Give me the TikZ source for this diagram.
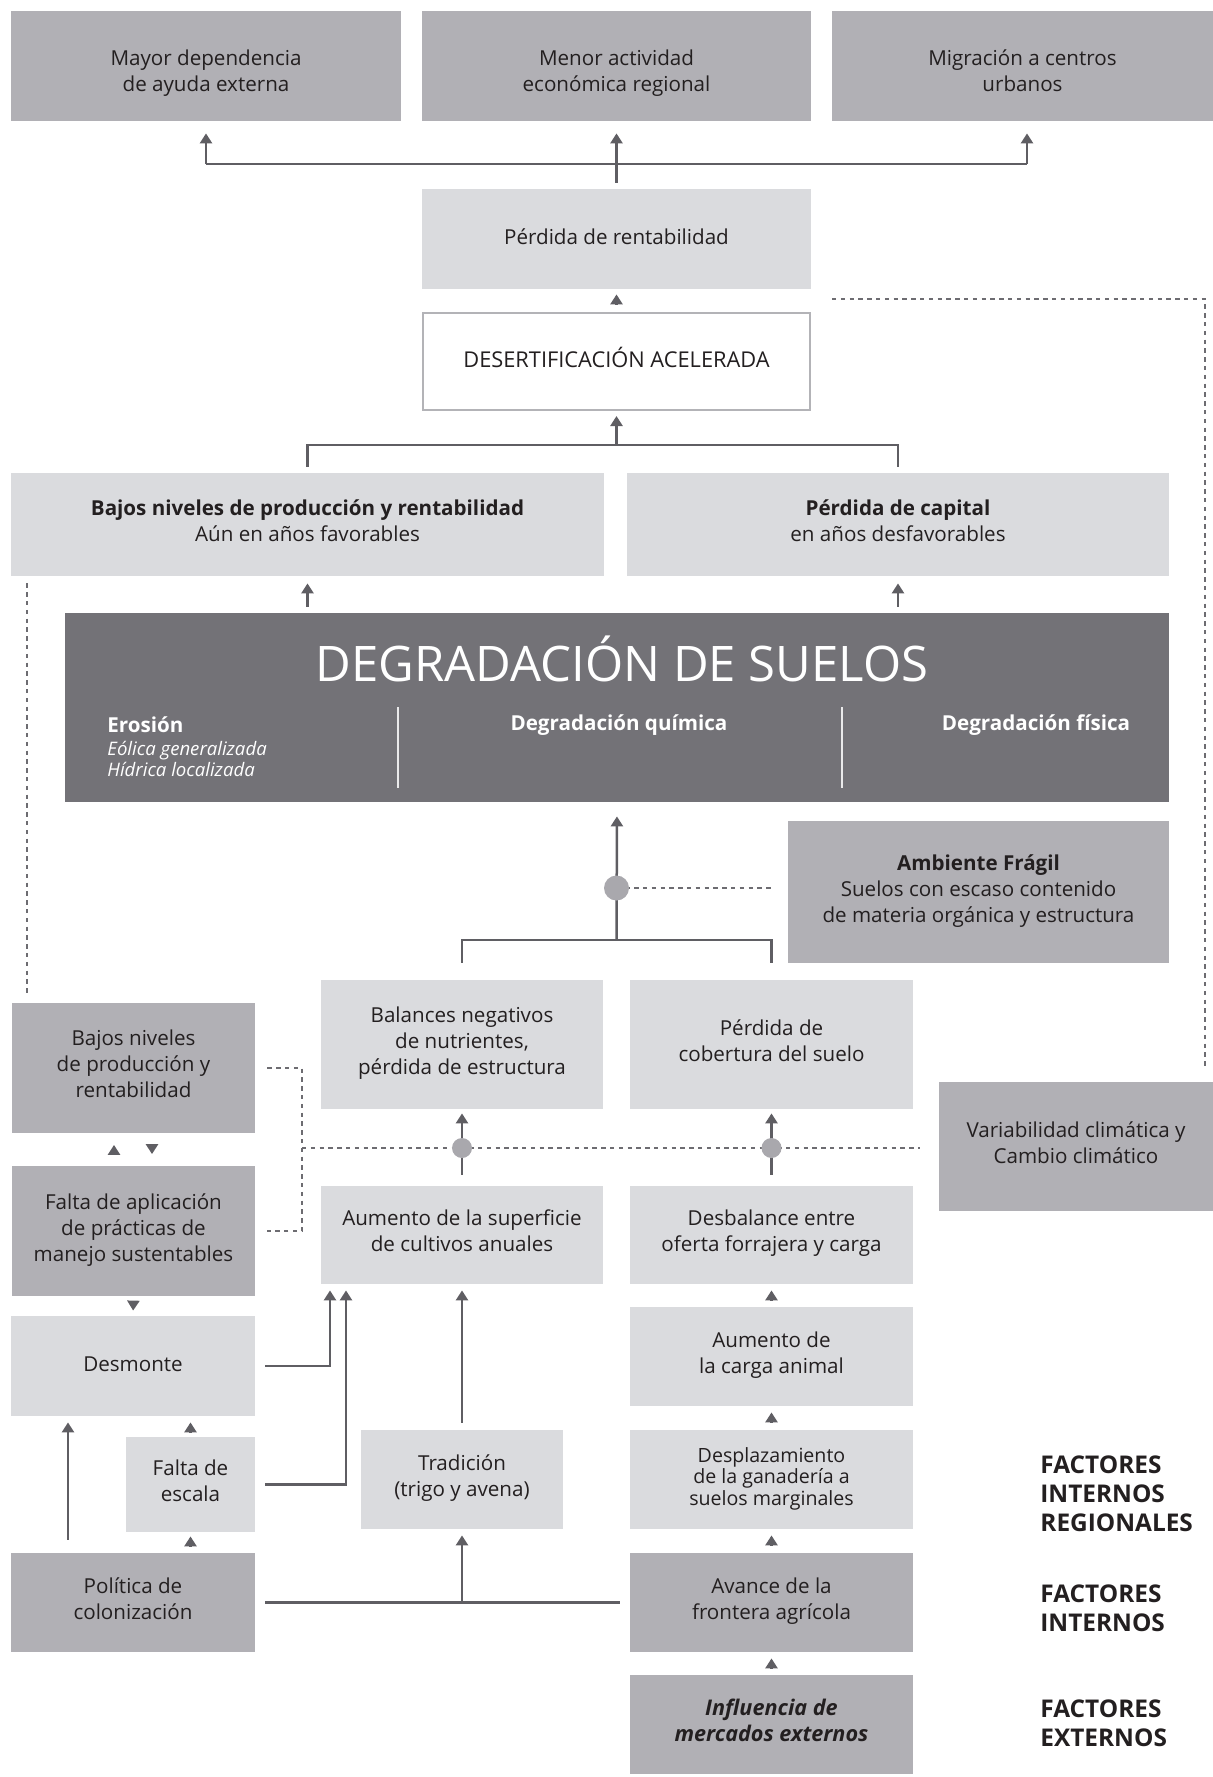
\documentclass[tikz,border=0pt]{standalone}
\usepackage{fontspec}
\setmainfont{Open Sans}
\usetikzlibrary{arrows.meta}

\definecolor{midgray}{HTML}{B1B0B5}
\definecolor{lightgray}{HTML}{DADBDE}
\definecolor{darkgray}{HTML}{737277}
\definecolor{linec}{HTML}{5F5E63}
\definecolor{dotc}{HTML}{6D6C71}
\definecolor{jointc}{HTML}{A9A8AD}
\definecolor{framec}{HTML}{B3B3B7}
\definecolor{txtc}{HTML}{231F20}

\tikzset{
	base/.style={align=center,inner sep=0pt,text=txtc,font=\fontsize{10.3}{13}\selectfont,
		execute at begin node=\strut,execute at end node=\strut},
	midbox/.style={base,fill=midgray},
	lightbox/.style={base,fill=lightgray},
	lowtext/.style={text height=28.9pt},
	sz/.style 2 args={minimum width=#1*0.5pt,minimum height=#2*0.5pt},
	ln/.style={draw=linec,line width=1.25pt},
	arr/.style={ln,-{Triangle[length=5pt,width=6pt]}},
	dots/.style={draw=dotc,line width=1.3pt,dash pattern=on 2.2pt off 2.2pt},
	joint/.style={circle,fill=jointc,inner sep=0pt,minimum size=#1*0.5pt},
	wtext/.style={text=white,inner sep=0pt,font=\fontsize{10.3}{13}\selectfont\bfseries},
	factor/.style={anchor=west,align=left,text=txtc,inner sep=0pt,font=\fontsize{12.2}{14.5}\selectfont\bfseries},
}

\begin{document}
\begin{tikzpicture}[x=0.5pt,y=-0.5pt]
	\useasboundingbox (0,0) rectangle (1213,1777);

	% consequences
	\node[midbox,lowtext,sz={390}{110}] (dep) at (206,66) {Mayor dependencia\\de ayuda externa};
	\node[midbox,lowtext,sz={389}{110}] (act) at (616.5,66) {Menor actividad\\económica regional};
	\node[midbox,lowtext,sz={381}{110}] (mig) at (1022.5,66) {Migración a centros\\urbanos};

	\node[lightbox,sz={389}{100}] (rent) at (616.5,239) {Pérdida de rentabilidad};
	\node[base,sz={387}{97},fill=white,draw=framec,line width=1pt,font=\fontsize{10.9}{13}\selectfont] (desert) at (616.5,361.5) {DESERTIFICACIÓN ACELERADA};

	\node[lightbox,sz={593}{103}] (bajosT) at (307.5,524.5) {\textbf{Bajos niveles de producción y rentabilidad}\\Aún en años favorables};
	\node[lightbox,sz={542}{103}] (capital) at (898,524.5) {\textbf{Pérdida de capital}\\en años desfavorables};

	% soil degradation block
	\node[fill=darkgray,inner sep=0pt,sz={1104}{189}] (degr) at (617,707.5) {};
	\node[text=white,font=\fontsize{24.5}{28}\selectfont] (degrT) at (622,659) {DEGRADACIÓN DE SUELOS};
	\node[wtext,anchor=west] (eros) at (107,725) {Erosión};
	\node[wtext,anchor=west,align=left,font=\fontsize{9.3}{10.5}\selectfont\itshape] (erosT) at (107,758.5) {Eólica generalizada\\Hídrica localizada};
	\node[wtext] (quim) at (619,725) {Degradación química};
	\node[wtext] (fis) at (1036,725) {Degradación física};
	\draw[white!85!darkgray,line width=0.7pt] (398,707) -- (398,788); % divider 1
	\draw[white!85!darkgray,line width=0.7pt] (842,707) -- (842,788); % divider 2

	% causes
	\node[midbox,sz={381}{142}] (amb) at (978.5,892) {\textbf{Ambiente Frágil}\\Suelos con escaso contenido\\de materia orgánica y estructura};
	\node[lightbox,sz={282}{129}] (bal) at (462,1044.5) {Balances negativos\\de nutrientes,\\pérdida de estructura};
	\node[lightbox,sz={283}{129}] (cob) at (771.5,1044.5) {Pérdida de\\cobertura del suelo};
	\node[midbox,sz={243}{130}] (bajosL) at (133.5,1068) {Bajos niveles\\de producción y\\rentabilidad};
	\node[midbox,sz={274}{129}] (var) at (1076,1146.5) {Variabilidad climática y\\Cambio climático};
	\node[midbox,sz={243}{130}] (faltaAp) at (133.5,1231) {Falta de aplicación\\de prácticas de\\manejo sustentables};
	\node[lightbox,sz={282}{98}] (sup) at (462,1235) {Aumento de la superficie\\de cultivos anuales};
	\node[lightbox,sz={283}{98}] (desb) at (771.5,1235) {Desbalance entre\\oferta forrajera y carga};
	\node[lightbox,sz={244}{100}] (desm) at (133,1366) {Desmonte};
	\node[lightbox,sz={283}{99}] (carga) at (771.5,1356.5) {Aumento de\\la carga animal};
	\node[lightbox,sz={283}{99},font=\fontsize{9.8}{10.8}\selectfont] (despl) at (771.5,1479.5) {Desplazamiento\\de la ganadería a\\suelos marginales};
	\node[lightbox,sz={202}{99}] (trad) at (462,1479.5) {Tradición\\(trigo y avena)};
	\node[lightbox,sz={129}{95}] (esc) at (190.5,1484.5) {Falta de\\escala};
	\node[midbox,sz={244}{99}] (poli) at (133,1602.5) {Política de\\colonización};
	\node[midbox,sz={283}{99}] (avance) at (771.5,1602.5) {Avance de la\\frontera agrícola};
	\node[midbox,sz={283}{99},font=\fontsize{10.8}{13}\selectfont\bfseries\itshape] (infl) at (771.5,1724.5) {Influencia de\\mercados externos};

	% factor labels
	\node[factor] (fir) at (1040,1494) {FACTORES\\INTERNOS\\REGIONALES};
	\node[factor] (fi) at (1040,1608.5) {FACTORES\\INTERNOS};
	\node[factor] (fe) at (1040,1723.5) {FACTORES\\EXTERNOS};

	% helper coordinates
	\coordinate (f1) at (616.5,164); % top fork
	\coordinate (f2) at (616.5,445); % fork under desertification
	\coordinate (f3) at (616.5,940); % fork over balances
	\coordinate (mx) at (1027,0);
	\coordinate (lx) at (27,0);
	\coordinate (rx) at (1205,0);
	\coordinate (dx) at (302,0);
	\coordinate (ua) at (114,0);
	\coordinate (ub) at (152,0);
	\coordinate (sx1) at (330,0);
	\coordinate (sx2) at (346,0);
	\coordinate (lx2) at (68,0);
	\coordinate (j1) at (616.5,888);
	\coordinate (j2) at (462,1148);
	\coordinate (j3) at (771.5,1148);

	% upper arrows
	\draw[arr,shorten <=3pt,shorten >=6pt] (rent.north) -- (act.south);
	\draw[ln] (f1 -| dep.south) -- (f1 -| mx);
	\draw[arr,shorten >=6pt] (f1 -| dep.south) -- (dep.south);
	\draw[arr,shorten >=6pt] (f1 -| mx) -- (mx |- mig.south);
	\draw[arr,shorten <=3.75pt,shorten >=2.5pt] (desert.north) -- (rent.south);
	\draw[arr,shorten >=2.5pt] (f2) -- (desert.south);
	\draw[ln,shorten <=3pt,shorten >=3pt] (bajosT.north) |- (f2) -| (capital.north);
	\draw[arr,shorten <=3pt,shorten >=3.5pt] (degr.north -| bajosT.south) -- (bajosT.south);
	\draw[arr,shorten <=3pt,shorten >=3.5pt] (degr.north -| capital.south) -- (capital.south);

	% feedback lines
	\draw[dots,shorten <=3.5pt,shorten >=5pt] (lx |- bajosT.south) -- (lx |- bajosL.north);
	\draw[dots,shorten >=7.5pt] (832,299) -| (rx |- var.north);
	\draw[dots,shorten <=6pt,shorten >=6pt] (bajosL.east) -| (dx |- faltaAp.east) -- (faltaAp.east);
	\draw[dots,shorten >=9.5pt] (dx |- j2) -- (var.west |- j2);
	\draw[dots,shorten >=8.5pt] (j1) -- (amb.west |- j1);

	% into soil degradation
	\draw[arr,shorten >=7pt] (f3) -- (degr.south);
	\draw[ln,shorten <=8.5pt,shorten >=8.5pt] (bal.north) |- (f3) -| (cob.north);
	\node[joint=25] (jn1) at (j1) {};

	% middle arrows
	\draw[arr,shorten <=5.5pt,shorten >=2pt] (sup.north) -- (bal.south);
	\draw[arr,shorten <=5.5pt,shorten >=2pt] (desb.north) -- (cob.south);
	\node[joint=20] (jn2) at (j2) {};
	\node[joint=20] (jn3) at (j3) {};

	% left column
	\draw[arr,shorten <=5.75pt,shorten >=5.75pt] (ua |- faltaAp.north) -- (ua |- bajosL.south);
	\draw[arr,shorten <=5.75pt,shorten >=5.75pt] (ub |- bajosL.south) -- (ub |- faltaAp.north);
	\draw[arr,shorten <=2.5pt,shorten >=2.5pt] (faltaAp.south) -- (desm.north);
	\draw[arr,shorten <=5pt,shorten >=3pt] (desm.east) -| (sx1 |- sup.south);
	\draw[arr,shorten <=5pt,shorten >=3pt] (esc.east) -| (sx2 |- sup.south);
	\draw[arr,shorten <=2.5pt,shorten >=3pt] (esc.north) -- (desm.south -| esc.north);
	\draw[arr,shorten <=6.5pt,shorten >=3pt] (lx2 |- poli.north) -- (lx2 |- desm.south);
	\draw[arr,shorten <=3.5pt,shorten >=2pt] (poli.north -| esc.south) -- (esc.south);

	% centre and right columns
	\draw[arr,shorten <=3.5pt,shorten >=3pt] (trad.north) -- (sup.south);
	\draw[ln,shorten <=5pt,shorten >=5pt] (poli.east) -- (avance.west);
	\draw[arr,shorten >=3pt] (trad.south |- poli.east) -- (trad.south);
	\draw[arr,shorten <=3.5pt,shorten >=3pt] (carga.north) -- (desb.south);
	\draw[arr,shorten <=3.5pt,shorten >=3pt] (despl.north) -- (carga.south);
	\draw[arr,shorten <=3.5pt,shorten >=3pt] (avance.north) -- (despl.south);
	\draw[arr,shorten <=3.5pt,shorten >=3pt] (infl.north) -- (avance.south);
\end{tikzpicture}
\end{document}
